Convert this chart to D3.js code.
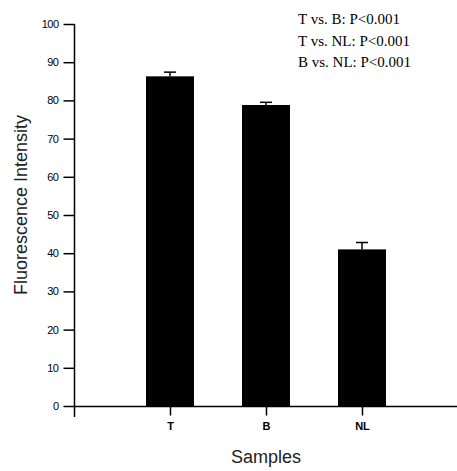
<!DOCTYPE html>
<html>
<head>
<meta charset="utf-8">
<script src="https://cdn.jsdelivr.net/npm/d3@7"></script>
<style>
  body { margin: 0; background: white; }
</style>
</head>
<body>
<div id="chart"></div>
<script>
var samples = ["T", "B", "NL"];
var intensity = [86.3, 78.8, 41.0];
var errors = [1.1, 0.7, 1.8];
var yTicks = [0, 10, 20, 30, 40, 50, 60, 70, 80, 90, 100];
var notes = ["T vs. B: P<0.001", "T vs. NL: P<0.001", "B vs. NL: P<0.001"];

var svgWidth = 457;
var svgHeight = 471;

var svg = d3.select("#chart")
  .append("svg")
  .attr("width", svgWidth)
  .attr("height", svgHeight);

svg.append("rect")
  .attr("width", svgWidth)
  .attr("height", svgHeight)
  .attr("fill", "white");

// x is a plain linear scale, bars sit at 1, 2, 3 and the axis runs to 4
var xScale = d3.scaleLinear()
  .domain([0, 4])
  .range([74, 458]);

var yScale = d3.scaleLinear()
  .domain([0, 100])
  .range([406, 24]);

var barWidth = 48;

// y axis line runs a bit below zero
svg.append("line")
  .attr("x1", 74.5).attr("x2", 74.5)
  .attr("y1", yScale(100)).attr("y2", 417)
  .attr("stroke", "black")
  .attr("stroke-width", 1.5);

var leftAxis = d3.axisLeft(yScale)
  .tickValues(yTicks)
  .tickSize(11)
  .tickPadding(5);

var yAxisG = svg.append("g")
  .attr("transform", "translate(74.5,0)")
  .call(leftAxis);
yAxisG.select(".domain").remove();
yAxisG.selectAll(".tick line").attr("stroke-width", 1.5);
yAxisG.selectAll("text")
  .attr("font-family", "Arial, 'Liberation Sans', sans-serif")
  .attr("font-size", "11px")
  .attr("letter-spacing", "-0.5px")
  .attr("fill", "black");

// x axis
svg.append("line")
  .attr("x1", 74).attr("x2", xScale(4))
  .attr("y1", 406.5).attr("y2", 406.5)
  .attr("stroke", "black")
  .attr("stroke-width", 1.5);

var bottomAxis = d3.axisBottom(xScale)
  .tickValues([1, 2, 3, 4])
  .tickSize(9)
  .tickPadding(7)
  .tickFormat(d => samples[d - 1] || "");

var xAxisG = svg.append("g")
  .attr("transform", "translate(0,406.5)")
  .call(bottomAxis);
xAxisG.select(".domain").remove();
xAxisG.selectAll(".tick line").attr("stroke-width", 1.5);
xAxisG.selectAll("text")
  .attr("font-family", "Arial, 'Liberation Sans', sans-serif")
  .attr("font-size", "11px")
  .attr("font-weight", "bold")
  .attr("fill", "black");

// bars
svg.selectAll(".bar")
  .data(intensity)
  .enter()
  .append("rect")
  .attr("class", "bar")
  .attr("x", (d, i) => xScale(i + 1) - barWidth / 2)
  .attr("y", d => yScale(d))
  .attr("width", barWidth)
  .attr("height", d => yScale(0) - yScale(d))
  .attr("fill", "black");

// error bars (upper half only)
svg.selectAll(".err")
  .data(intensity)
  .enter()
  .append("line")
  .attr("class", "err")
  .attr("x1", (d, i) => xScale(i + 1))
  .attr("x2", (d, i) => xScale(i + 1))
  .attr("y1", d => yScale(d))
  .attr("y2", (d, i) => yScale(d + errors[i]))
  .attr("stroke", "black")
  .attr("stroke-width", 1.5);

svg.selectAll(".cap")
  .data(intensity)
  .enter()
  .append("line")
  .attr("class", "cap")
  .attr("x1", (d, i) => xScale(i + 1) - 6)
  .attr("x2", (d, i) => xScale(i + 1) + 6)
  .attr("y1", (d, i) => yScale(d + errors[i]))
  .attr("y2", (d, i) => yScale(d + errors[i]))
  .attr("stroke", "black")
  .attr("stroke-width", 1.5);

// axis titles
svg.append("text")
  .attr("x", xScale(2))
  .attr("y", 463)
  .attr("text-anchor", "middle")
  .attr("font-family", "Arial, 'Liberation Sans', sans-serif")
  .attr("font-size", "18px")
  .attr("fill", "#222")
  .text("Samples");

svg.append("text")
  .attr("transform", "translate(27,205) rotate(-90)")
  .attr("text-anchor", "middle")
  .attr("font-family", "Arial, 'Liberation Sans', sans-serif")
  .attr("font-size", "18px")
  .attr("fill", "#222")
  .text("Fluorescence Intensity");

// p-value notes
svg.selectAll(".note")
  .data(notes)
  .enter()
  .append("text")
  .attr("class", "note")
  .attr("x", 298)
  .attr("y", (d, i) => 24 + i * 21.5)
  .attr("font-family", "'Liberation Serif', 'Times New Roman', serif")
  .attr("font-size", "15px")
  .attr("fill", "black")
  .text(d => d);
</script>
</body>
</html>
